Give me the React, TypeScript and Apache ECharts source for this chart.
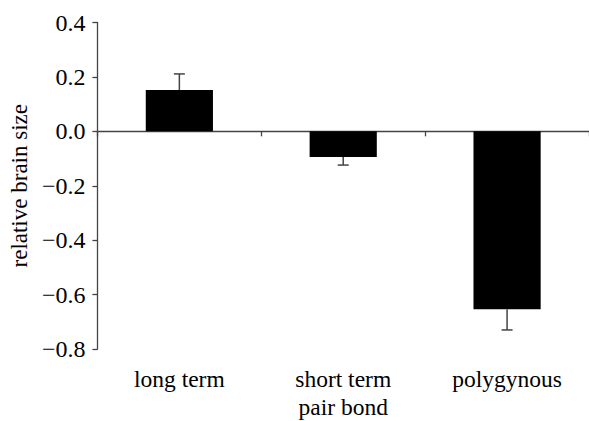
import React, { useEffect, useRef } from "react";
import * as echarts from "echarts";

const categories = ["long term", "short term\npair bond", "polygynous"];
const values = [0.152, -0.094, -0.654];
const errorEnds = [0.211, -0.124, -0.73];
const yTicks = { min: -0.8, max: 0.4, interval: 0.2 };

const FONT = "'Liberation Serif', 'Times New Roman', serif";
const AXIS = "#444";

export default function App() {
  const ref = useRef<HTMLDivElement>(null);
  useEffect(() => {
    if (!ref.current) return;
    const chart = echarts.init(ref.current, undefined, { renderer: "svg" });
    chart.setOption({
      animation: false,
      grid: { left: 94, right: 0, top: 22.5, bottom: 69.3 },
      xAxis: [
        {
          type: "category",
          data: categories,
          position: "bottom",
          axisLine: { show: false, onZero: false },
          axisTick: { show: false },
          axisLabel: { color: "#000", fontFamily: FONT, fontSize: 23.5, margin: 16, lineHeight: 28 },
        },
        {
          type: "category",
          data: categories,
          position: "bottom",
          axisLine: { show: true, onZero: true, onZeroAxisIndex: 0, lineStyle: { color: AXIS, width: 1.3 } },
          axisTick: { show: true, length: 5, inside: false, lineStyle: { color: AXIS, width: 1.3 } },
          axisLabel: { show: false },
        },
      ],
      yAxis: {
        type: "value",
        min: yTicks.min,
        max: yTicks.max,
        interval: yTicks.interval,
        name: "relative brain size",
        nameLocation: "middle",
        nameGap: 62,
        nameTextStyle: { color: "#000", fontFamily: FONT, fontSize: 23 },
        splitLine: { show: false },
        axisLine: { show: true, onZero: false, lineStyle: { color: AXIS, width: 1.3 } },
        axisTick: { show: true, length: 5, lineStyle: { color: AXIS, width: 1.3 } },
        axisLabel: {
          color: "#000",
          fontFamily: FONT,
          fontSize: 24,
          margin: 12,
          formatter: (v: number) => v.toFixed(1).replace("-", "\u2212"),
        },
      },
      series: [
        {
          type: "bar",
          data: values,
          barWidth: "41%",
          itemStyle: { color: "#000" },
          xAxisIndex: 0,
          z: 2,
        },
        {
          type: "custom",
          xAxisIndex: 0,
          data: values.map((v, i) => [i, v, errorEnds[i]]),
          z: 3,
          renderItem: (params: any, api: any) => {
            const x = api.value(0);
            const p0 = api.coord([x, api.value(1)]);
            const p1 = api.coord([x, api.value(2)]);
            const cap = 5.5;
            const style = { stroke: AXIS, lineWidth: 1.5 };
            return {
              type: "group",
              children: [
                { type: "line", shape: { x1: p0[0], y1: p0[1], x2: p1[0], y2: p1[1] }, style },
                { type: "line", shape: { x1: p1[0] - cap, y1: p1[1], x2: p1[0] + cap, y2: p1[1] }, style },
              ],
            };
          },
        },
      ],
    });
    return () => chart.dispose();
  }, []);
  return <div ref={ref} style={{ width: 589, height: 421, position: "absolute", left: 0, top: 0 }} />;
}
